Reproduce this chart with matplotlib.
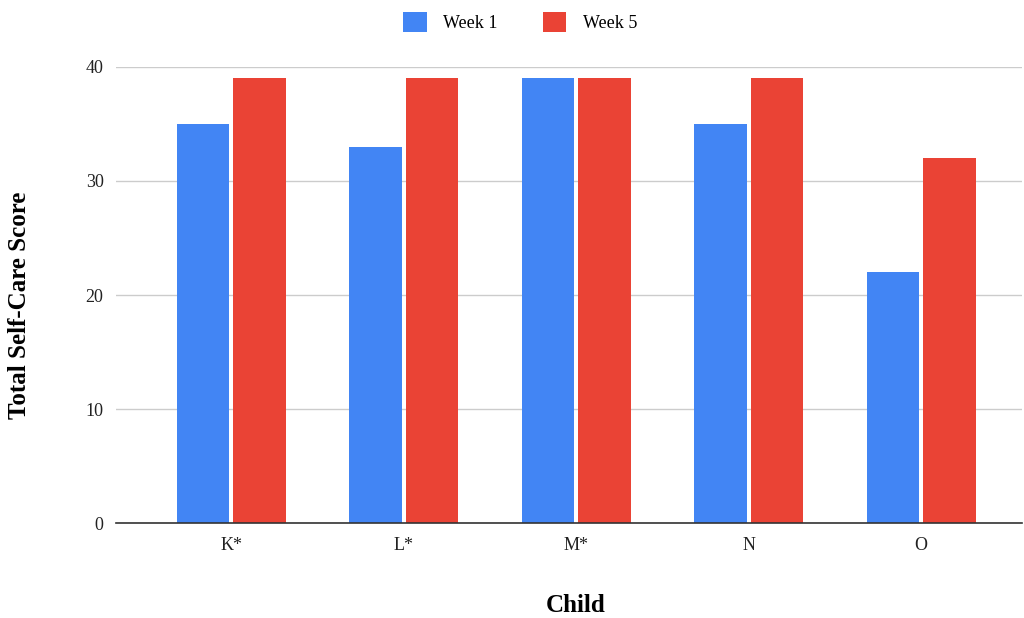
import matplotlib
matplotlib.use("Agg")
import matplotlib.pyplot as plt
import numpy as np

children = ["K*", "L*", "M*", "N", "O"]
week1 = [35, 33, 39, 35, 22]
week5 = [39, 39, 39, 39, 32]
y_ticks = [0, 10, 20, 30, 40]

plt.rcParams['font.family'] = ['Liberation Serif', 'DejaVu Serif']

fig = plt.figure(figsize=(10.24, 6.18), dpi=100)
ax = fig.add_axes([0.1133, 0.1537, 0.8847, 0.7379])

x = np.arange(len(children))
w = 0.304
off = 0.164
b1 = ax.bar(x - off, week1, w, color="#4285F4", label="Week 1", zorder=3)
b2 = ax.bar(x + off, week5, w, color="#EA4335", label="Week 5", zorder=3)

ax.set_xlim(-0.668, 4.584)
ax.set_ylim(0, 40)
ax.set_yticks(y_ticks)
ax.set_xticks(x)
ax.set_xticklabels(children)
ax.yaxis.grid(True, color="#cccccc", linewidth=1, zorder=0)
ax.set_axisbelow(True)
for s in ["top", "right", "left"]:
    ax.spines[s].set_visible(False)
ax.spines["bottom"].set_color("#333333")
ax.spines["bottom"].set_linewidth(1.2)
ax.spines["bottom"].set_zorder(4)
ax.tick_params(axis="both", length=0, labelsize=13, colors="#222222")
ax.tick_params(axis="y", pad=9)
ax.tick_params(axis="x", pad=10)

fig.text(576 / 1024, 1 - 606 / 618, "Child", fontsize=18, fontweight="bold",
         ha="center", va="center")
fig.text(20 / 1024, 1 - 305 / 618, "Total Self-Care Score", fontsize=18,
         fontweight="bold", ha="center", va="center", rotation=90)

fig.legend(handles=[b1, b2], labels=["Week 1", "Week 5"], loc="center",
           bbox_to_anchor=(0.508, 0.964), ncol=2, frameon=False, fontsize=13,
           handlelength=1.3, handleheight=1.3, columnspacing=2.5, handletextpad=0.9)

fig.savefig("out.png", dpi=100)
